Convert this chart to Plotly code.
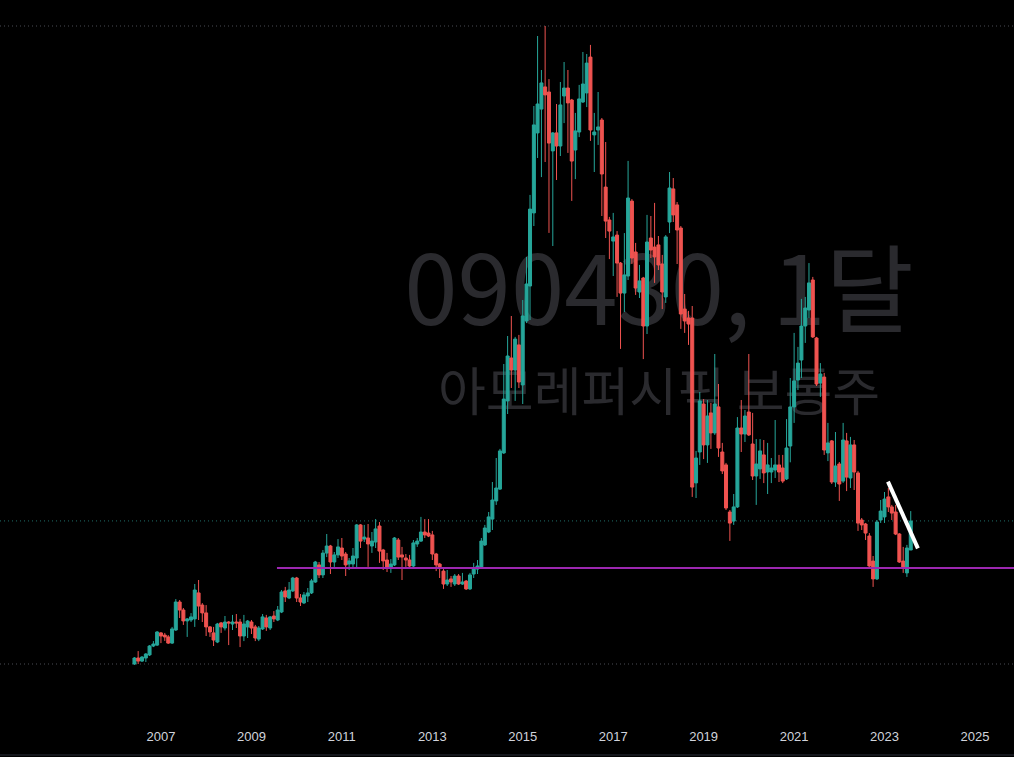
import pandas as pd
import plotly.graph_objects as go

# Monthly candles, 090430 (thousand KRW), Jun 2006 .. Aug 2023
months = pd.date_range("2006-06-01", periods=207, freq="MS")

opens = [
    40.0, 43.9, 41.9, 43.9, 45.9, 51.7, 52.3, 60.2, 58.8, 57.6,
    53.6, 62.1, 80.3, 75.1, 68.0, 68.6, 69.3, 86.2, 78.3, 73.2,
    64.1, 60.2, 54.3, 66.7, 63.4, 67.3, 66.0, 67.3, 67.3, 58.2,
    64.1, 67.3, 64.1, 56.2, 62.8, 69.9, 63.4, 71.2, 68.6, 73.8,
    87.5, 82.9, 87.5, 95.9, 82.9, 79.7, 84.2, 86.2, 93.3, 104.4,
    97.9, 112.1, 116.7, 106.3, 110.9, 115.4, 111.5, 105.0, 105.0, 108.9,
    130.4, 121.2, 121.9, 116.7, 119.3, 129.7, 114.1, 107.6, 102.4, 104.4,
    120.6, 110.9, 108.9, 107.6, 103.7, 118.0, 119.9, 125.8, 125.1, 123.9,
    111.5, 105.0, 100.4, 92.0, 95.3, 92.0, 97.2, 92.0, 93.9, 88.8,
    98.5, 101.7, 103.1, 117.4, 125.8, 134.2, 146.0, 153.7, 177.2, 211.0,
    238.9, 231.1, 247.4, 221.4, 263.0, 285.7, 333.2, 385.2, 400.7, 415.1,
    411.8, 373.5, 385.2, 376.7, 409.2, 414.4, 406.6, 374.1, 385.8, 405.3,
    411.2, 434.5, 383.9, 387.1, 393.6, 350.0, 328.6, 314.9, 318.8, 300.6,
    281.1, 292.2, 340.9, 307.8, 281.8, 290.9, 259.7, 316.9, 311.0, 312.4,
    300.0, 278.6, 327.3, 348.8, 338.4, 323.4, 270.7, 264.9, 264.9, 157.7,
    177.8, 209.0, 182.4, 203.2, 190.2, 207.1, 177.8, 169.4, 138.8, 132.9,
    142.1, 193.4, 189.5, 203.8, 183.0, 162.2, 166.8, 175.9, 164.8, 164.8,
    166.1, 169.4, 167.4, 160.3, 181.7, 207.1, 224.6, 237.6, 259.7, 270.1,
    289.6, 251.9, 222.6, 226.5, 177.2, 185.0, 158.3, 170.0, 158.9, 185.0,
    160.9, 182.4, 164.2, 133.6, 131.0, 123.2, 106.9, 95.3, 133.6, 135.6,
    148.6, 142.1, 138.8, 124.5, 106.9, 99.2, 114.1,
]
highs = [
    44.5, 48.4, 45.2, 47.1, 52.3, 54.9, 61.4, 60.8, 60.2, 58.8,
    64.1, 82.2, 81.6, 76.4, 69.9, 73.1, 92.0, 94.6, 79.6, 78.3,
    64.7, 64.1, 66.7, 67.3, 71.2, 67.9, 71.9, 72.5, 69.3, 71.9,
    68.6, 68.6, 65.4, 64.7, 72.5, 71.9, 71.2, 74.4, 77.7, 88.1,
    90.1, 93.3, 96.6, 96.6, 85.5, 86.8, 89.4, 95.3, 107.0, 106.3,
    114.1, 124.5, 117.4, 112.8, 121.2, 121.9, 112.8, 108.9, 115.4, 131.0,
    131.0, 130.4, 131.0, 125.8, 134.2, 132.3, 114.8, 112.2, 108.2, 122.5,
    121.9, 116.1, 111.5, 110.9, 120.6, 121.9, 135.6, 134.2, 134.2, 126.5,
    112.2, 105.7, 101.7, 101.1, 97.2, 98.5, 98.5, 99.2, 94.6, 99.2,
    105.7, 107.6, 121.9, 130.4, 138.8, 158.3, 173.9, 179.8, 235.0, 253.2,
    266.2, 252.6, 253.9, 276.6, 304.6, 344.9, 402.7, 448.2, 426.1, 454.7,
    420.2, 385.8, 404.0, 418.3, 431.3, 426.1, 407.3, 398.2, 416.4, 437.8,
    436.5, 442.4, 398.2, 411.8, 394.9, 379.3, 330.6, 333.2, 321.4, 301.3,
    320.1, 367.0, 342.2, 313.7, 299.4, 291.6, 331.9, 331.2, 339.7, 318.2,
    305.9, 318.8, 359.8, 355.9, 340.3, 324.7, 280.5, 269.5, 272.7, 178.5,
    216.8, 212.2, 211.6, 209.7, 241.5, 222.0, 183.7, 170.7, 140.1, 150.5,
    200.5, 211.6, 205.1, 241.5, 203.2, 186.2, 186.2, 185.6, 183.7, 173.9,
    198.6, 175.9, 175.9, 199.2, 225.9, 255.2, 246.1, 277.3, 278.6, 300.6,
    291.6, 252.6, 235.6, 229.2, 196.7, 185.6, 190.8, 171.3, 196.7, 190.2,
    187.6, 185.6, 165.5, 134.9, 131.7, 125.1, 110.2, 133.6, 146.6, 151.8,
    154.4, 143.4, 143.4, 125.1, 116.1, 117.4, 139.4,
]
lows = [
    39.4, 40.0, 41.3, 41.3, 45.2, 51.0, 51.7, 53.6, 55.0, 53.0,
    53.0, 61.5, 69.9, 65.4, 57.6, 67.3, 64.1, 68.6, 67.3, 58.2,
    57.6, 51.7, 53.6, 60.2, 61.8, 52.3, 62.1, 63.4, 51.0, 54.9,
    56.9, 59.5, 54.9, 54.9, 62.1, 61.5, 62.1, 67.3, 67.9, 73.1,
    80.3, 82.2, 86.8, 80.3, 77.7, 79.0, 80.3, 85.5, 92.7, 95.9,
    95.9, 109.5, 98.5, 103.1, 108.9, 107.6, 97.2, 101.1, 102.4, 102.4,
    115.4, 119.3, 103.1, 112.2, 115.4, 105.7, 101.1, 99.8, 99.2, 103.7,
    107.6, 94.6, 103.1, 102.4, 102.4, 116.1, 119.3, 121.9, 122.5, 107.6,
    100.4, 95.9, 88.8, 90.7, 90.1, 90.7, 91.4, 91.4, 88.1, 88.1,
    95.9, 98.5, 102.4, 116.7, 125.1, 127.1, 143.4, 153.1, 176.5, 202.5,
    219.4, 211.0, 219.4, 209.0, 261.6, 263.6, 324.7, 368.9, 356.5, 366.3,
    320.2, 311.7, 354.6, 370.2, 391.6, 372.2, 341.0, 355.2, 382.5, 404.7,
    402.0, 380.0, 359.8, 377.4, 331.2, 316.9, 303.2, 292.2, 278.6, 244.8,
    268.8, 289.6, 300.0, 279.9, 277.9, 238.2, 254.5, 303.9, 287.7, 296.1,
    270.7, 274.7, 320.1, 327.3, 300.0, 257.8, 255.2, 247.4, 148.6, 147.9,
    169.4, 173.2, 170.7, 179.8, 188.9, 174.6, 163.5, 140.1, 120.0, 130.4,
    141.4, 177.8, 184.3, 188.2, 159.6, 143.4, 160.3, 157.6, 150.5, 157.6,
    160.9, 158.3, 157.6, 159.6, 171.1, 196.7, 218.1, 225.9, 248.7, 264.9,
    251.9, 220.7, 213.6, 175.9, 171.9, 157.0, 155.1, 146.0, 157.7, 152.4,
    154.4, 153.1, 126.5, 127.1, 120.6, 103.1, 90.1, 94.6, 131.7, 131.7,
    138.8, 133.6, 123.8, 105.7, 99.2, 96.6, 114.1,
]
closes = [
    43.9, 41.9, 44.5, 46.5, 51.7, 53.0, 60.8, 58.2, 57.6, 53.6,
    62.8, 80.3, 75.1, 68.0, 69.3, 70.6, 88.1, 77.7, 73.2, 64.1,
    60.8, 55.6, 66.0, 64.1, 67.3, 66.7, 67.3, 66.7, 58.2, 66.0,
    67.9, 63.4, 56.9, 63.4, 70.6, 64.1, 70.6, 69.3, 75.1, 86.8,
    83.6, 88.1, 95.9, 82.9, 80.3, 84.9, 86.2, 94.0, 106.3, 97.9,
    112.1, 116.7, 106.3, 110.9, 116.1, 110.2, 104.4, 107.0, 110.2, 130.4,
    119.9, 122.5, 118.0, 119.9, 127.8, 113.4, 107.0, 102.4, 105.0, 121.9,
    109.5, 109.5, 107.6, 103.7, 118.7, 119.9, 125.8, 123.9, 123.2, 111.5,
    104.4, 103.1, 92.0, 94.6, 93.3, 97.2, 92.0, 93.3, 88.8, 97.9,
    101.7, 103.7, 119.9, 128.4, 135.6, 146.6, 154.4, 178.5, 212.2, 240.2,
    231.1, 251.2, 223.3, 266.2, 287.0, 335.7, 390.4, 404.0, 417.7, 409.9,
    378.6, 385.2, 376.7, 403.4, 414.4, 404.7, 366.9, 386.5, 407.3, 417.0,
    430.6, 387.1, 385.8, 389.1, 358.5, 327.9, 321.4, 317.6, 300.6, 281.1,
    292.9, 342.9, 303.9, 284.4, 289.0, 259.7, 314.3, 309.1, 304.6, 299.4,
    281.8, 317.6, 349.4, 331.9, 322.1, 267.5, 263.0, 261.0, 155.0, 173.9,
    211.0, 182.4, 201.2, 190.2, 209.0, 180.4, 165.5, 141.4, 131.6, 142.1,
    193.4, 189.5, 201.2, 188.9, 162.2, 170.0, 178.5, 164.2, 169.4, 167.4,
    169.4, 164.8, 158.9, 180.4, 207.1, 224.0, 235.6, 259.7, 271.4, 287.7,
    252.6, 222.0, 228.5, 179.1, 183.7, 158.3, 168.7, 157.0, 185.6, 161.5,
    182.4, 164.8, 131.6, 130.4, 125.1, 103.7, 95.3, 132.3, 139.4, 147.2,
    142.1, 138.1, 124.5, 106.3, 102.4, 115.4, 132.9,
]

year_ticks = ["2007", "2009", "2011", "2013", "2015", "2017", "2019", "2021", "2023", "2025"]

# drawn levels / trend line (price values)
dotted_levels = [454.7, 133.0, 40.0]
dotted_colors = ["#4a4d55", "#1f6f69", "#4a4d55"]
purple_level = 102.4
purple_start = "2009-07-26"
trend_x = ["2023-01-29", "2023-09-28"]
trend_y = [158.5, 115.2]

UP = "#26a69a"
DOWN = "#ef5350"

fig = go.Figure()
fig.add_trace(go.Candlestick(
    x=months, open=opens, high=highs, low=lows, close=closes,
    increasing=dict(line=dict(color=UP, width=1), fillcolor=UP),
    decreasing=dict(line=dict(color=DOWN, width=1), fillcolor=DOWN),
    whiskerwidth=0, showlegend=False, hoverinfo="skip",
))

shapes = []
# watermark (below the candles)
WM = "#2a2a2e"
shapes.append(dict(type="rect", xref="paper", yref="paper", x0=0.35, x1=0.95,
                   y0=0.52, y1=0.66, line=dict(width=0), fillcolor="rgba(0,0,0,0)",
                   layer="below",
                   label=dict(text="090430, 1달", textposition="middle center",
                              font=dict(size=96, color=WM, family="Noto Sans CJK KR"))))
shapes.append(dict(type="rect", xref="paper", yref="paper", x0=0.35, x1=0.95,
                   y0=0.415, y1=0.495, line=dict(width=0), fillcolor="rgba(0,0,0,0)",
                   layer="below",
                   label=dict(text="아모레퍼시픽 보통주", textposition="middle center",
                              font=dict(size=52, color=WM, family="Noto Sans CJK KR"))))
for lv, col in zip(dotted_levels, dotted_colors):
    shapes.append(dict(type="line", xref="paper", yref="y", x0=0, x1=1, y0=lv, y1=lv,
                       line=dict(color=col, width=1, dash="1px,3px"), layer="below"))
shapes.append(dict(type="line", xref="x", yref="y", x0=purple_start, x1="2030-01-01",
                   y0=purple_level, y1=purple_level,
                   line=dict(color="#9c27b0", width=2)))
shapes.append(dict(type="line", xref="x", yref="y", x0=trend_x[0], x1=trend_x[1],
                   y0=trend_y[0], y1=trend_y[1], line=dict(color="#ffffff", width=4)))
# bottom border of time scale
shapes.append(dict(type="line", xref="paper", yref="paper", x0=0, x1=1,
                   y0=-0.0385, y1=-0.0385, line=dict(color="#2a2e39", width=1)))

fig.update_layout(
    width=1014, height=757,
    margin=dict(l=0, r=0, t=0, b=30),
    paper_bgcolor="#000000", plot_bgcolor="#000000",
    showlegend=False,
    boxgap=0.1, boxgroupgap=0.04,
    shapes=shapes,
    xaxis=dict(
        type="date", range=["2003-06-11", "2025-11-12"],
        rangeslider=dict(visible=False),
        showgrid=False, zeroline=False, showline=False,
        tickmode="array", tickvals=[f"{y}-01-01" for y in year_ticks], ticktext=year_ticks,
        tickfont=dict(family="Liberation Sans", size=13, color="#d1d4dc"),
        ticks="", fixedrange=True,
    ),
    yaxis=dict(
        range=[-0.95, 471.6], showgrid=False, zeroline=False, showline=False,
        showticklabels=False, ticks="", fixedrange=True,
    ),
)

fig.write_html("out.html", config={"displayModeBar": False},
               post_script="document.body.style.margin='0';")
